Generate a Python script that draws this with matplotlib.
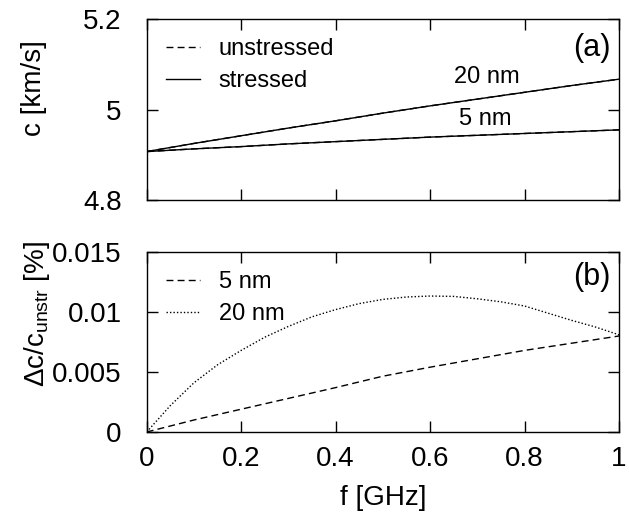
import matplotlib
matplotlib.use("Agg")
import matplotlib.pyplot as plt
from matplotlib.ticker import FixedLocator, FixedFormatter

plt.rcParams['font.family'] = ['Liberation Sans', 'DejaVu Sans']
plt.rcParams['mathtext.fontset'] = 'custom'
plt.rcParams['mathtext.rm'] = 'Liberation Sans'
plt.rcParams['mathtext.it'] = 'Liberation Sans'

# ---- data ----
freq = [0.0, 0.1, 0.2, 0.3, 0.4, 0.5, 0.6, 0.7, 0.8, 0.9, 1.0]
c_20nm = [4.907, 4.925, 4.942, 4.959, 4.975, 4.992, 5.008, 5.023, 5.038, 5.053, 5.067]
c_5nm = [4.907, 4.913, 4.918, 4.924, 4.929, 4.934, 4.939, 4.943, 4.947, 4.951, 4.955]
dc_5nm = [0.0, 0.0010, 0.0019, 0.0028, 0.0037, 0.00465, 0.0054, 0.0061, 0.0068, 0.0074, 0.0080]

freq_fine = [0.0, 0.05, 0.1, 0.15, 0.2, 0.25, 0.3, 0.35, 0.4, 0.45, 0.5,
             0.55, 0.6, 0.65, 0.7, 0.75, 0.8, 0.85, 0.9, 0.95, 1.0]
dc_20nm = [0.0, 0.0022, 0.0041, 0.0056, 0.0068, 0.0079, 0.0088, 0.0096, 0.0102,
           0.0107, 0.01105, 0.01125, 0.01133, 0.0113, 0.0111, 0.01085, 0.0105,
           0.0099, 0.0093, 0.00875, 0.0081]

x_ticks = [0, 0.2, 0.4, 0.6, 0.8, 1.0]
x_ticklabels = ["0", "0.2", "0.4", "0.6", "0.8", "1"]
c_ticks = [4.8, 5.0, 5.2]
c_ticklabels = ["4.8", "5", "5.2"]
dc_ticks = [0, 0.005, 0.01, 0.015]
dc_ticklabels = ["0", "0.005", "0.01", "0.015"]

W, H = 629, 518
fig = plt.figure(figsize=(W / 100, H / 100), dpi=100)
ax1 = fig.add_axes([146.7 / W, 1 - 200 / H, (619 - 146.7) / W, 181 / H])
ax2 = fig.add_axes([146.7 / W, 1 - 432 / H, (619 - 146.7) / W, 180 / H])

lw = 1.0
dash = (0, (5, 3))
dot = (0, (1, 1.5))

# top panel: unstressed (dashed) hidden beneath stressed (solid)
ax1.plot(freq, c_20nm, color='black', lw=lw, linestyle=dash, label='unstressed')
ax1.plot(freq, c_5nm, color='black', lw=lw, linestyle=dash)
ax1.plot(freq, c_20nm, color='black', lw=lw, linestyle='-', label='stressed')
ax1.plot(freq, c_5nm, color='black', lw=lw, linestyle='-')
ax1.text(0.72, 5.072, "20 nm", ha='center', va='center', fontsize=17)
ax1.text(0.716, 4.979, "5 nm", ha='center', va='center', fontsize=17)
ax1.text(0.983, 0.84, "(a)", transform=ax1.transAxes, ha='right', va='center', fontsize=22)
ax1.set_xlim(0, 1)
ax1.set_ylim(4.8, 5.2)

ax2.plot(freq, dc_5nm, color='black', lw=lw, linestyle=dash, label='5 nm')
ax2.plot(freq_fine, dc_20nm, color='black', lw=lw, linestyle=dot, label='20 nm')
ax2.text(0.983, 0.86, "(b)", transform=ax2.transAxes, ha='right', va='center', fontsize=22)
ax2.set_xlim(0, 1)
ax2.set_ylim(0, 0.015)

for ax in (ax1, ax2):
    ax.xaxis.set_major_locator(FixedLocator(x_ticks))
    ax.tick_params(direction='in', length=8, width=1, top=True, right=True,
                   labelsize=20, color='black')
    ax.tick_params(axis='y', pad=18)
    ax.tick_params(axis='x', pad=10)
    for s in ax.spines.values():
        s.set_linewidth(1)
    leg = ax.legend(loc='upper left', frameon=False, fontsize=17, handlelength=1.45,
                    handletextpad=0.8, labelspacing=0.42, borderaxespad=0.3,
                    borderpad=0.5)

ax1.xaxis.set_major_formatter(FixedFormatter([""] * len(x_ticks)))
ax1.yaxis.set_major_locator(FixedLocator(c_ticks))
ax1.yaxis.set_major_formatter(FixedFormatter(c_ticklabels))
ax2.xaxis.set_major_formatter(FixedFormatter(x_ticklabels))
ax2.yaxis.set_major_locator(FixedLocator(dc_ticks))
ax2.yaxis.set_major_formatter(FixedFormatter(dc_ticklabels))

ax1.set_ylabel("c [km/s]", fontsize=20)
ax1.yaxis.label.set_va('center')
ax1.yaxis.set_label_coords((34 - 146.7) / 472.3, 0.62)

ax2.set_ylabel(r"Δc/c$_{\mathrm{unstr}}$ [%]", fontsize=20)
ax2.yaxis.label.set_va('center')
ax2.yaxis.set_label_coords((37 - 146.7) / 472.3, 0.655)

ax2.set_xlabel("f [GHz]", fontsize=20)
ax2.xaxis.set_label_coords(0.5, -(498 - 432) / 180)
ax2.xaxis.label.set_va('center')

fig.savefig("out.png", dpi=100)
